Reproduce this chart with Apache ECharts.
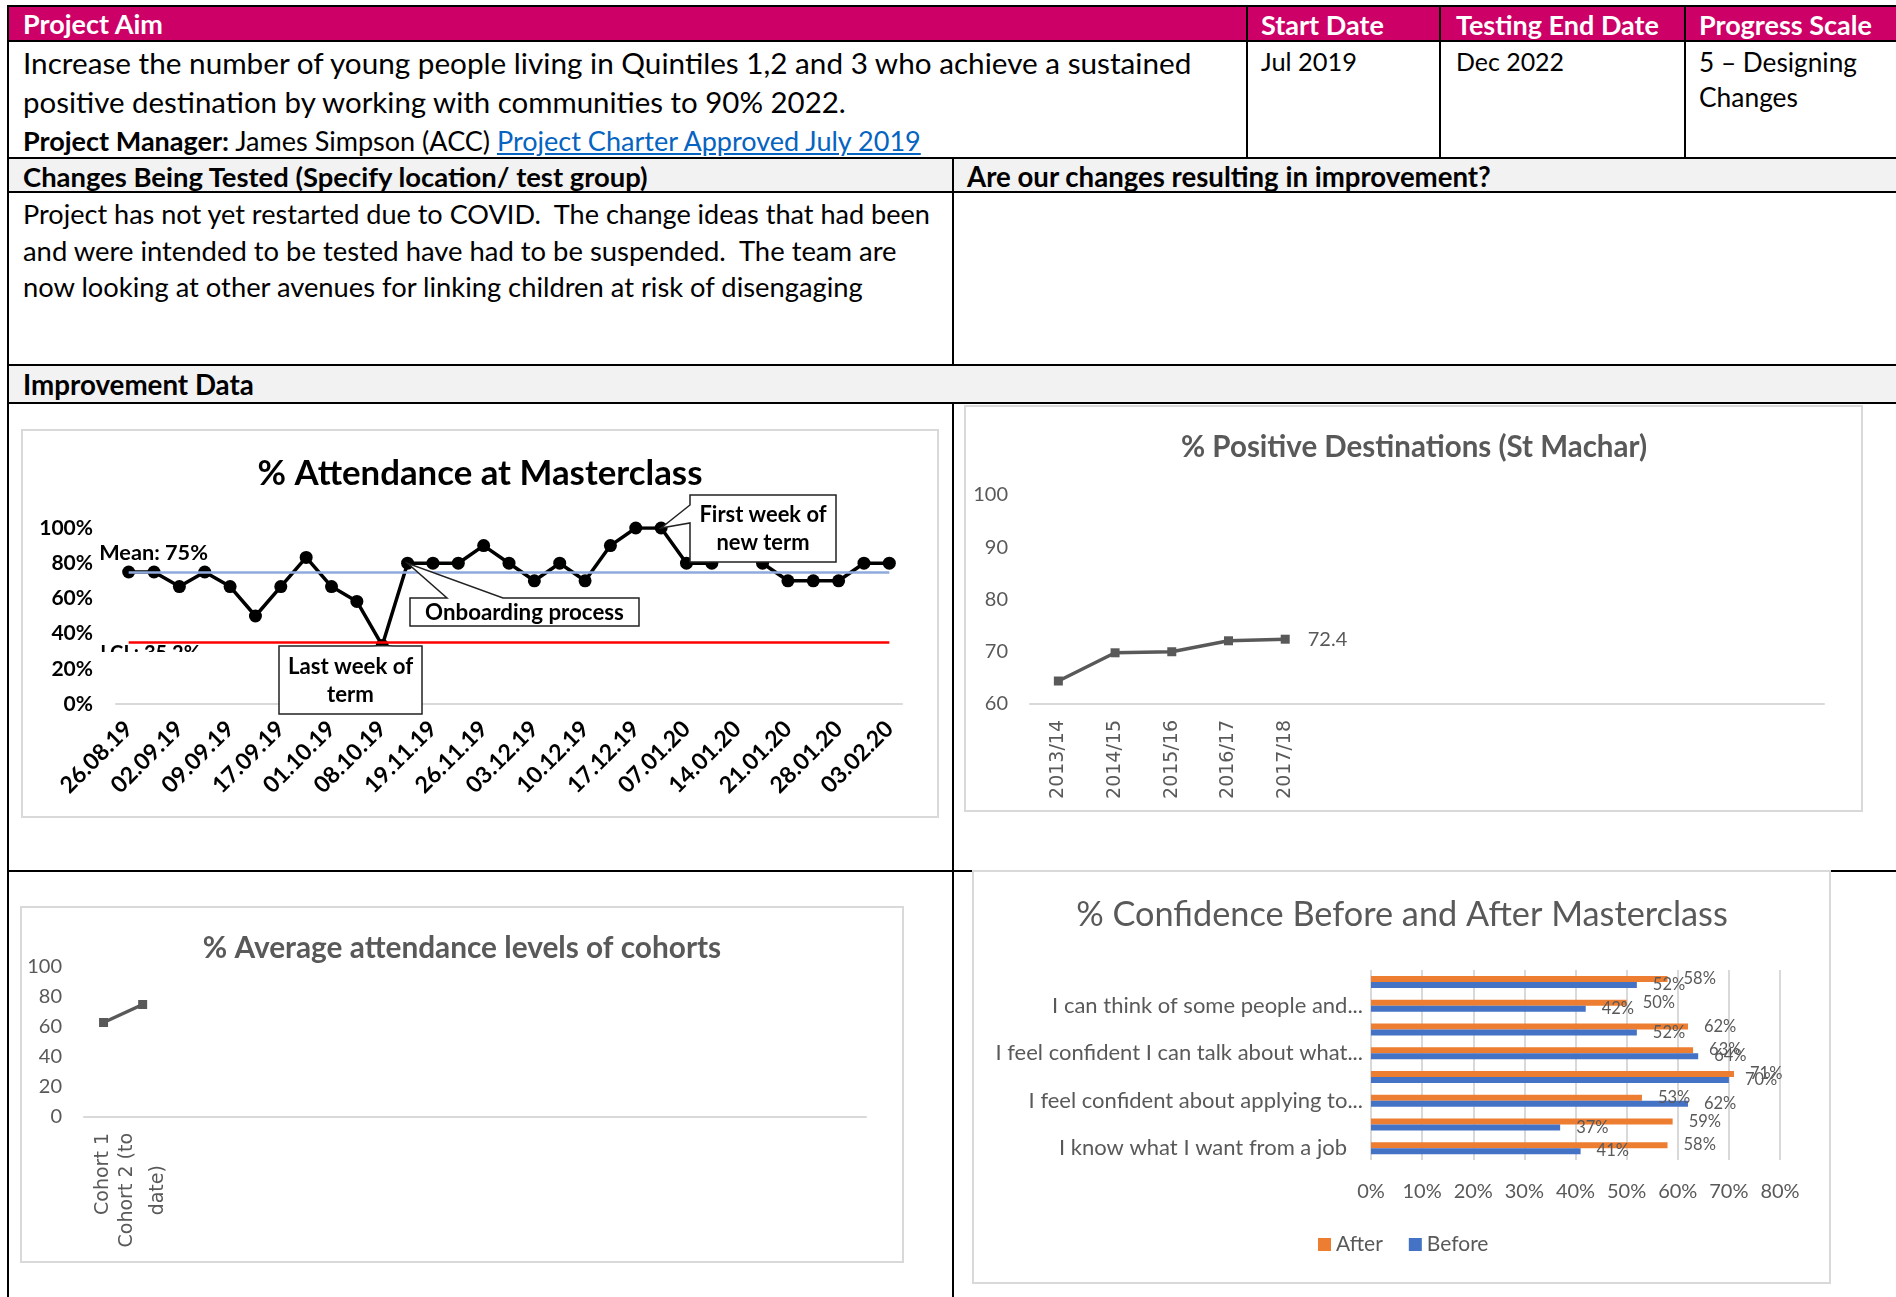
<!DOCTYPE html>
<html>
<head>
<meta charset="utf-8">
<title>Improvement project report</title>
<script src="https://cdn.jsdelivr.net/npm/echarts@6.0.0/dist/echarts.min.js"></script>
<style>
  html, body { margin: 0; padding: 0; background: #fff; }
  #page { position: relative; width: 1896px; height: 1297px; overflow: hidden; font-family: Lato, 'Open Sans', sans-serif; }
  .ln { position: absolute; background: #000; }
  .bg { position: absolute; }
  .tx { position: absolute; white-space: nowrap; line-height: 1; color: #000; }
  .tx a { color: #0563c1; text-decoration: underline; }
  #chart { position: absolute; left: 0; top: 0; width: 1896px; height: 1297px; z-index: 2; }
</style>
</head>
<body>
<div id="page">
  <!-- row fills -->
  <div class="bg" style="left:9px;top:7px;width:1887px;height:33px;background:#cc0066"></div>
  <div class="bg" style="left:9px;top:159px;width:1887px;height:32px;background:#f2f2f2"></div>
  <div class="bg" style="left:9px;top:366px;width:1887px;height:36px;background:#f2f2f2"></div>
  <!-- table rules -->
  <div class="ln" style="left:7px;top:5px;width:1889px;height:2px"></div>
  <div class="ln" style="left:7px;top:5px;width:2px;height:1292px"></div>
  <div class="ln" style="left:7px;top:40px;width:1889px;height:2px"></div>
  <div class="ln" style="left:7px;top:157px;width:1889px;height:2px"></div>
  <div class="ln" style="left:7px;top:191px;width:1889px;height:2px"></div>
  <div class="ln" style="left:7px;top:364px;width:1889px;height:2px"></div>
  <div class="ln" style="left:7px;top:402px;width:1889px;height:2px"></div>
  <div class="ln" style="left:7px;top:870px;width:1889px;height:2px"></div>
  <div class="ln" style="left:1246px;top:5px;width:2px;height:154px"></div>
  <div class="ln" style="left:1439px;top:5px;width:2px;height:154px"></div>
  <div class="ln" style="left:1684px;top:5px;width:2px;height:154px"></div>
  <div class="ln" style="left:952px;top:157px;width:2px;height:209px"></div>
  <div class="ln" style="left:952px;top:402px;width:2px;height:895px"></div>
  <div id="chart"></div>
</div>

<script>
// ---- chart data ----
const attDates = ['26.08.19', '29.08.19', '02.09.19', '05.09.19', '09.09.19', '12.09.19', '17.09.19', '24.09.19',
  '01.10.19', '03.10.19', '08.10.19', '12.11.19', '19.11.19', '21.11.19', '26.11.19', '28.11.19',
  '03.12.19', '05.12.19', '10.12.19', '12.12.19', '17.12.19', '06.01.20', '07.01.20', '09.01.20',
  '14.01.20', '16.01.20', '21.01.20', '23.01.20', '28.01.20', '30.01.20', '03.02.20']
const attValues = [75, 75, 66.7, 75, 66.7, 50, 66.7, 83.3, 66.7, 58.3, 33.3, 80, 80, 80, 90, 80,
  70, 80, 70, 90, 100, 100, 80, 80, '-', 80, 70, 70, 70, 80, 80]
const attMean = 75
const attLcl = 35.2

const destYears = ['2013/14', '2014/15', '2015/16', '2016/17', '2017/18']
const destValues = [64.4, 69.8, 70.0, 72.1, 72.4]
const destSlots = 14

const cohorts = ['Cohort 1', 'Cohort 2 (to\ndate)']
const cohortValues = [63, 75]
const cohortSlots = 20

// bottom to top, only every other statement label is visible in the chart
const statements = ['I know what I want from a job', 'Statement 2', 'I feel confident about applying to...',
  'Statement 4', 'I feel confident I can talk about what...', 'Statement 6',
  'I can think of some people and...', 'Statement 8']
const afterValues = [58, 59, 53, 71, 63, 62, 50, 58]
const beforeValues = [41, 37, 62, 70, 64, 52, 42, 52]

// ---- table text ----
const page = document.getElementById('page')
const chartDiv = document.getElementById('chart')
const tableTexts = [
  // html, left, centre y, weight, colour, width in the original
  ['Project Aim', 23, 24, 700, '#fff', 140],
  ['Start Date', 1261, 25, 700, '#fff', 123],
  ['Testing End Date', 1456, 25, 700, '#fff', 203],
  ['Progress Scale', 1699, 25, 700, '#fff', 173],
  ['Increase the number of young people living in Quintiles 1,2 and 3 who achieve a sustained', 23, 64, 400, '#000', 1169],
  ['positive destination by working with communities to 90% 2022.', 23, 103, 400, '#000', 823],
  ['<b>Project Manager:</b> James Simpson (ACC) <a>Project Charter Approved July 2019</a>', 23, 141, 400, '#000', 898],
  ['Jul 2019', 1261, 62, 400, '#000', 96],
  ['Dec 2022', 1456, 62, 400, '#000', 108],
  ['5 \u2013 Designing', 1699, 63, 400, '#000', 158],
  ['Changes', 1699, 98, 400, '#000', 99],
  ['Changes Being Tested (Specify location/ test group)', 23, 177.5, 700, '#000', 625],
  ['Are our changes resulting in improvement?', 967, 178, 700, '#000', 524],
  ['Project has not yet restarted due to COVID.&nbsp; The change ideas that had been', 23, 214.5, 400, '#000', 907],
  ['and were intended to be tested have had to be suspended.&nbsp; The team are', 23, 251, 400, '#000', 874],
  ['now looking at other avenues for linking children at risk of disengaging', 23, 287.5, 400, '#000', 840],
  ['Improvement Data', 23, 386, 700, '#000', 231]
]
tableTexts.forEach(([html, x, cy, weight, colour, target]) => {
  const d = document.createElement('div')
  d.className = 'tx'
  d.innerHTML = html
  d.style.fontWeight = weight
  d.style.color = colour
  d.style.left = x + 'px'
  d.style.fontSize = '28px'
  page.insertBefore(d, chartDiv)
  const size = 28 * target / d.getBoundingClientRect().width
  d.style.fontSize = size.toFixed(2) + 'px'
  d.style.top = (cy - 0.53 * size).toFixed(1) + 'px'
})

// ---- charts ----
const FONT = 'Lato'
const GREY = '#595959'
const RULE = '#d9d9d9'
const measure = document.createElement('canvas').getContext('2d')
function fit (text, weight, target) {
  measure.font = weight + ' 20px ' + FONT
  return +(20 * target / measure.measureText(text).width).toFixed(1)
}

const chart = echarts.init(chartDiv)
chart.setOption({
  animation: false,
  grid: [
    {left: 116, top: 528, width: 786, height: 176},
    {left: 1030, top: 495, width: 794, height: 209},
    {left: 84, top: 967, width: 782, height: 150},
    {left: 1371, top: 970, width: 409, height: 190}
  ],
  xAxis: [
    {
      gridIndex: 0,
      type: 'category',
      data: attDates,
      axisLine: {lineStyle: {color: RULE, width: 2}},
      axisTick: {show: false},
      axisLabel: {interval: 1, rotate: 45, margin: 21, color: '#000', fontWeight: 'bold', fontSize: 23, fontFamily: FONT}
    },
    {
      gridIndex: 1,
      type: 'category',
      data: destYears.concat(Array(destSlots - destYears.length).fill('')),
      axisLine: {lineStyle: {color: RULE, width: 2}},
      axisTick: {show: false},
      axisLabel: {interval: 0, rotate: 90, margin: 16, color: GREY, fontSize: 19, fontFamily: 'DejaVu Sans'}
    },
    {
      gridIndex: 2,
      type: 'category',
      data: cohorts.concat(Array(cohortSlots - cohorts.length).fill('')),
      axisLine: {lineStyle: {color: RULE, width: 2}},
      axisTick: {show: false},
      axisLabel: {
        interval: 0,
        rotate: 90,
        margin: 16,
        color: GREY,
        fontSize: 19,
        lineHeight: 31,
        fontFamily: 'DejaVu Sans',
        // wrapped labels are centred line by line, as in the original
        formatter: function (v) {
          if (v.indexOf('\n') < 0) return v
          return v.split('\n').map(s => '{c|' + s + '}').join('\n')
        },
        rich: {c: {align: 'center', color: GREY, fontSize: 19, lineHeight: 31, fontFamily: 'DejaVu Sans'}}
      }
    },
    {
      gridIndex: 3,
      type: 'value',
      min: 0,
      max: 80,
      interval: 10,
      axisLine: {show: false},
      axisTick: {show: false},
      splitLine: {lineStyle: {color: RULE, width: 2}},
      axisLabel: {formatter: '{value}%', margin: 22, color: GREY, fontSize: 20, fontFamily: FONT}
    }
  ],
  yAxis: [
    {
      gridIndex: 0,
      type: 'value',
      min: 0,
      max: 100,
      interval: 20,
      splitLine: {show: false},
      axisLine: {show: false},
      axisTick: {show: false},
      axisLabel: {formatter: '{value}%', margin: 23, color: '#000', fontWeight: 'bold', fontSize: 21, fontFamily: FONT}
    },
    {
      gridIndex: 1,
      type: 'value',
      min: 60,
      max: 100,
      interval: 10,
      splitLine: {show: false},
      axisLine: {show: false},
      axisTick: {show: false},
      axisLabel: {margin: 22, color: GREY, fontSize: 20, fontFamily: FONT}
    },
    {
      gridIndex: 2,
      type: 'value',
      min: 0,
      max: 100,
      interval: 20,
      splitLine: {show: false},
      axisLine: {show: false},
      axisTick: {show: false},
      axisLabel: {margin: 22, color: GREY, fontSize: 20, fontFamily: FONT}
    },
    {
      gridIndex: 3,
      type: 'category',
      data: statements,
      axisLine: {show: false},
      axisTick: {show: false},
      axisLabel: {
        interval: 1,
        margin: 8,
        color: GREY,
        fontSize: 22,
        fontFamily: FONT,
        // the one untruncated statement sits a little further from the axis
        formatter: function (v) {
          return v.slice(-3) === '...' ? v : '{p|' + v + '}'
        },
        rich: {p: {padding: [0, 16, 0, 0], color: GREY, fontSize: 22, fontFamily: FONT}}
      }
    }
  ],
  legend: {
    data: ['After', 'Before'],
    left: 1313,
    top: 1229,
    icon: 'rect',
    itemWidth: 13,
    itemHeight: 13,
    itemGap: 26,
    textStyle: {color: GREY, fontSize: 21, fontFamily: FONT}
  },
  series: [
    {
      name: 'Attendance',
      type: 'line',
      xAxisIndex: 0,
      yAxisIndex: 0,
      data: attValues,
      symbol: 'circle',
      symbolSize: 13,
      itemStyle: {color: '#000'},
      lineStyle: {color: '#000', width: 3.5},
      markLine: {
        silent: true,
        symbol: 'none',
        label: {show: false},
        data: [
          [{coord: [0, attMean], lineStyle: {color: '#8faadc', width: 2.5, type: 'solid'}}, {coord: [attDates.length - 1, attMean]}],
          [{coord: [0, attLcl], lineStyle: {color: '#ff0000', width: 2.5, type: 'solid'}}, {coord: [attDates.length - 1, attLcl]}]
        ]
      }
    },
    {
      name: 'Positive destinations',
      type: 'line',
      xAxisIndex: 1,
      yAxisIndex: 1,
      data: destValues.map((v, i) => ({
        value: v,
        label: {show: i === destValues.length - 1}
      })),
      symbol: 'rect',
      symbolSize: 9,
      itemStyle: {color: GREY},
      lineStyle: {color: GREY, width: 3.5},
      label: {position: 'right', distance: 18, color: GREY, fontSize: 20, fontFamily: FONT}
    },
    {
      name: 'Cohort attendance',
      type: 'line',
      xAxisIndex: 2,
      yAxisIndex: 2,
      data: cohortValues,
      symbol: 'rect',
      symbolSize: 9,
      itemStyle: {color: GREY},
      lineStyle: {color: GREY, width: 3.5}
    },
    {
      name: 'After',
      type: 'bar',
      xAxisIndex: 3,
      yAxisIndex: 3,
      data: afterValues,
      barWidth: 6,
      barGap: '0%',
      itemStyle: {color: '#ed7d31'},
      label: {show: true, position: 'right', distance: 16, formatter: '{c}%', color: GREY, fontSize: 16.5, fontFamily: FONT}
    },
    {
      name: 'Before',
      type: 'bar',
      xAxisIndex: 3,
      yAxisIndex: 3,
      data: beforeValues,
      barWidth: 6,
      barGap: '0%',
      itemStyle: {color: '#4472c4'},
      label: {show: true, position: 'right', distance: 16, formatter: '{c}%', color: GREY, fontSize: 16.5, fontFamily: FONT}
    }
  ]
})

// ---- frames, titles and annotations ----
const px = (i, v) => chart.convertToPixel({gridIndex: 0}, [i, v])
const pMean = px(0, attMean)
const pLcl = px(0, attLcl)

function frame (x, y, w, h) {
  return {type: 'rect', z: -10, shape: {x: x, y: y, width: w, height: h}, style: {fill: '#fff', stroke: RULE, lineWidth: 2}}
}
function label (text, x, y, weight, colour, target, extra) {
  const size = fit(text.split('\n')[0], weight, target)
  return Object.assign({
    type: 'text',
    x: x,
    y: y,
    z: 30,
    style: {
      text: text,
      font: weight + ' ' + size + 'px ' + FONT,
      fill: colour,
      textAlign: 'center',
      textVerticalAlign: 'middle',
      lineHeight: 28
    }
  }, extra || {})
}
// callout: box plus a wedge pointing at the data point
function callout (box, tip, wedge, side) {
  const [x1, y1, x2, y2] = box
  let pts
  if (side === 'left') {
    pts = [[x1, y1], [x2, y1], [x2, y2], [x1, y2], [x1, wedge[1]], tip, [x1, wedge[0]]]
  } else {
    pts = [[x1, y1], [wedge[0], y1], tip, [wedge[1], y1], [x2, y1], [x2, y2], [x1, y2]]
  }
  return {type: 'polygon', z: 20, shape: {points: pts}, style: {fill: '#fff', stroke: '#222', lineWidth: 1.5}}
}

const lclSize = fit('LCL: 35.2%', 'bold', 100)
chart.setOption({
  graphic: [
    frame(22, 430, 916, 387),
    frame(965, 406, 897, 405),
    frame(21, 907, 882, 355),
    frame(973, 871, 857, 412),
    label('% Attendance at Masterclass', 480, 474, 'bold', '#000', 445),
    label('% Positive Destinations (St Machar)', 1414, 447, 'bold', GREY, 466),
    label('% Average attendance levels of cohorts', 462, 948, 'bold', GREY, 518),
    label('% Confidence Before and After Masterclass', 1402, 915, 'normal', GREY, 651),
    {
      type: 'text', x: pMean[0] - 29.5, y: pMean[1] - 19, z: 30,
      style: {text: 'Mean: 75%', font: 'bold ' + fit('Mean: 75%', 'bold', 109) + 'px ' + FONT, fill: '#000', textAlign: 'left', textVerticalAlign: 'middle'}
    },
    {
      type: 'text', x: pLcl[0] - 28.5, y: pLcl[1] + 11, z: 30,
      style: {text: 'LCL: 35.2%', font: 'bold ' + lclSize + 'px ' + FONT, fill: '#000', textAlign: 'left', textVerticalAlign: 'middle'}
    },
    // the original label is cut off along its middle
    {type: 'rect', z: 31, shape: {x: pLcl[0] - 33, y: pLcl[1] + 10, width: 120, height: 22}, style: {fill: '#fff'}},
    callout([690, 495, 836, 562], px(21, attValues[21]), [505, 523], 'left'),
    label('First week of\nnew term', 763, 529, 'bold', '#000', 127, {z: 32}),
    callout([410, 598, 639, 626], px(11, attValues[11]), [447, 503], 'top'),
    label('Onboarding process', 524.5, 612.5, 'bold', '#000', 199, {z: 32}),
    callout([279, 646, 422, 714], px(10, attValues[10]), [372, 394], 'top'),
    label('Last week of\nterm', 350.5, 681, 'bold', '#000', 125, {z: 32})
  ]
})
</script>
</body>
</html>
